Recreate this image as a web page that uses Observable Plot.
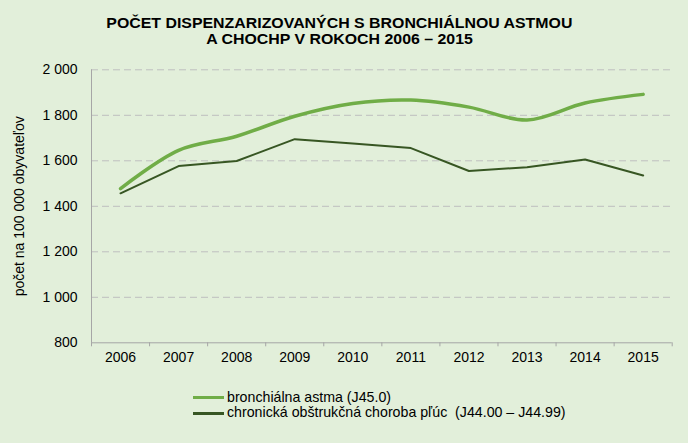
<!DOCTYPE html>
<html>
<head>
<meta charset="utf-8">
<script src="https://cdn.jsdelivr.net/npm/d3@7"></script>
<script src="https://cdn.jsdelivr.net/npm/@observablehq/plot@0.6"></script>
<style>
  html, body { margin: 0; padding: 0; }
  body { width: 688px; height: 443px; background: #E2EFDA; position: relative; overflow: hidden;
         font-family: "Liberation Sans", Arial, sans-serif; }
  #title { position: absolute; left: 0; top: 0; width: 678px; height: 50px; text-align: center;
           font-family: "Liberation Sans", Arial, sans-serif;
           font-weight: bold; font-size: 14px; line-height: 16.6px; padding-top: 14.8px; box-sizing: border-box; }
  #title span { display: inline-block; transform: scaleX(1.135); transform-origin: center; white-space: nowrap; }
  #chart { position: absolute; left: 0; top: 50px; }
  #legend { position: absolute; left: 193px; top: 389.5px; font-size: 14.2px; line-height: 15.7px; color: #000; }
  .item { display: flex; align-items: center; white-space: pre; }
  .swatch { width: 31px; margin-right: 3px; }
</style>
</head>
<body>
<div id="title"><span>POČET DISPENZARIZOVANÝCH S BRONCHIÁLNOU ASTMOU</span><br><span>A CHOCHP V ROKOCH 2006 – 2015</span></div>
<div id="chart"></div>
<div id="legend"></div>
<script>
const years = [2006, 2007, 2008, 2009, 2010, 2011, 2012, 2013, 2014, 2015];
const asthma = [1478, 1646, 1708, 1796, 1852, 1867, 1836, 1779, 1854, 1892];
const copd = [1457, 1577, 1599, 1695, 1676, 1656, 1555, 1572, 1606, 1535];
const yTicks = [800, 1000, 1200, 1400, 1600, 1800, 2000];
const seriesNames = ["bronchiálna astma (J45.0)", "chronická obštrukčná choroba pľúc  (J44.00 – J44.99)"];
const seriesColors = ["#70AD47", "#375623"];
const seriesWidths = [3.5, 2];
const yLabel = "počet na 100 000 obyvateľov";

const asthmaRows = years.map((year, i) => ({year, value: asthma[i]}));
const copdRows = years.map((year, i) => ({year, value: copd[i]}));
const boundaries = [...years.map(y => y - 0.5), years[years.length - 1] + 0.5];
const fmt = d => d3.format(",")(d).replace(/,/g, "\u00a0");

const chart = Plot.plot({
  width: 688,
  height: 320,
  marginLeft: 91,
  marginRight: 16.3,
  marginTop: 19.3,
  marginBottom: 27.7,
  style: {background: "transparent", fontFamily: "'Liberation Sans', Arial, sans-serif", fontSize: "14px", color: "#000"},
  x: {domain: [boundaries[0], boundaries[boundaries.length - 1]]},
  y: {domain: [yTicks[0], yTicks[yTicks.length - 1]]},
  marks: [
    Plot.gridY(yTicks.slice(1), {stroke: "#BFBFBF", strokeOpacity: 1, strokeDasharray: "7,4"}),
    Plot.ruleY([yTicks[0]], {stroke: "#A6A6A6"}),
    Plot.ruleX([boundaries[0]], {stroke: "#A6A6A6"}),
    Plot.axisX(boundaries, {tickSize: 4, stroke: "#A6A6A6", tickFormat: () => "", label: null}),
    Plot.axisX(years, {tickSize: 0, tickPadding: 9, tickFormat: d => String(d), label: null, fill: "#000"}),
    Plot.axisY(yTicks, {tickSize: 0, tickPadding: 14, tickFormat: fmt, fill: "#000",
      label: yLabel, labelAnchor: "center", labelArrow: "none", labelOffset: 77}),
    Plot.line(asthmaRows, {x: "year", y: "value", stroke: seriesColors[0], strokeWidth: seriesWidths[0], curve: "catmull-rom"}),
    Plot.line(copdRows, {x: "year", y: "value", stroke: seriesColors[1], strokeWidth: seriesWidths[1]})
  ]
});
document.getElementById("chart").appendChild(chart);

const legend = document.getElementById("legend");
seriesNames.forEach((name, i) => {
  const item = document.createElement("div");
  item.className = "item";
  const sw = document.createElement("span");
  sw.className = "swatch";
  sw.style.borderTop = `3px solid ${seriesColors[i]}`;
  item.appendChild(sw);
  item.appendChild(document.createTextNode(name));
  legend.appendChild(item);
});
</script>
</body>
</html>
